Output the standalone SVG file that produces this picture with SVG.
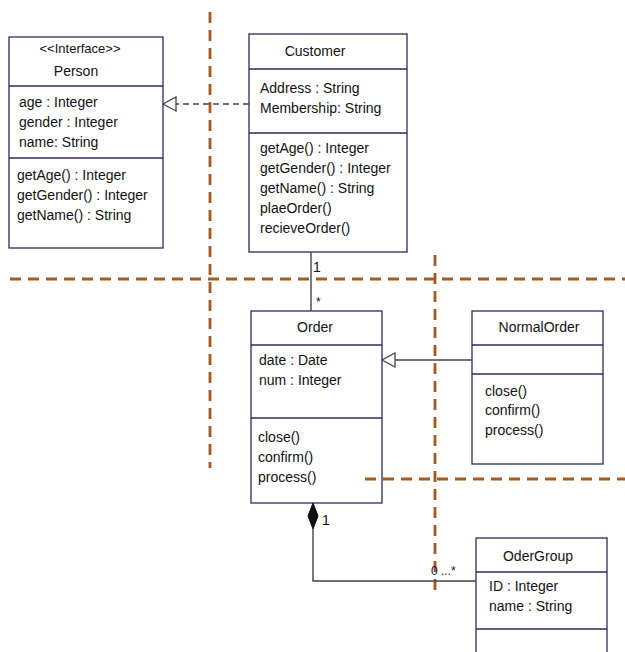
<svg xmlns="http://www.w3.org/2000/svg" width="625" height="652" viewBox="0 0 625 652">
<style>
.box{fill:#fff;stroke:#2b2b5e;stroke-width:1.3}
.div{stroke:#2b2b5e;stroke-width:1.3}
text{font-family:"Liberation Sans",Arial,sans-serif;font-size:14px;fill:#111}
.c{text-anchor:middle}
.sm{font-size:12px}
.dash{stroke:#a8581c;stroke-width:2.8;stroke-dasharray:11,7;fill:none}
.conn{stroke:#444;stroke-width:1.4;fill:none}
</style>
<defs>
<marker id="tri" markerWidth="16" markerHeight="16" refX="14" refY="8" orient="auto" markerUnits="userSpaceOnUse">
<path d="M1,1 L14,8 L1,15 Z" fill="#fff" stroke="#444" stroke-width="1.3"/>
</marker>
</defs>
<g id="Person">
<rect class="box" x="9" y="37" width="154" height="211"/>
<line class="div" x1="9" y1="86" x2="163" y2="86"/>
<line class="div" x1="9" y1="158" x2="163" y2="158"/>
<text class="c" x="80" y="53" style="font-size:13px">&lt;&lt;Interface&gt;&gt;</text>
<text class="c" x="76" y="76">Person</text>
<text x="19" y="107">age : Integer</text>
<text x="19" y="127">gender : Integer</text>
<text x="19" y="147">name: String</text>
<text x="17" y="180">getAge() : Integer</text>
<text x="17" y="200">getGender() : Integer</text>
<text x="17" y="220">getName() : String</text>
</g>
<g id="Customer">
<rect class="box" x="249" y="34" width="158" height="218"/>
<line class="div" x1="249" y1="69" x2="407" y2="69"/>
<line class="div" x1="249" y1="133" x2="407" y2="133"/>
<text class="c" x="315" y="56">Customer</text>
<text x="260" y="93">Address : String</text>
<text x="260" y="113">Membership: String</text>
<text x="260" y="153">getAge() : Integer</text>
<text x="260" y="173">getGender() : Integer</text>
<text x="260" y="193">getName() : String</text>
<text x="260" y="213">plaeOrder()</text>
<text x="260" y="233">recieveOrder()</text>
</g>
<g id="Order">
<rect class="box" x="251" y="311" width="131" height="192"/>
<line class="div" x1="251" y1="345" x2="382" y2="345"/>
<line class="div" x1="251" y1="418" x2="382" y2="418"/>
<text class="c" x="315" y="332">Order</text>
<text x="259" y="365">date : Date</text>
<text x="259" y="385">num : Integer</text>
<text x="258" y="442">close()</text>
<text x="258" y="462">confirm()</text>
<text x="258" y="482">process()</text>
</g>
<g id="NormalOrder">
<rect class="box" x="472" y="311" width="131" height="153"/>
<line class="div" x1="472" y1="345" x2="603" y2="345"/>
<line class="div" x1="472" y1="374" x2="603" y2="374"/>
<text class="c" x="539" y="332">NormalOrder</text>
<text x="485" y="396">close()</text>
<text x="485" y="415">confirm()</text>
<text x="485" y="435">process()</text>
</g>
<g id="OderGroup">
<rect class="box" x="476" y="538" width="131" height="120"/>
<line class="div" x1="476" y1="572" x2="607" y2="572"/>
<line class="div" x1="476" y1="629" x2="607" y2="629"/>
<text class="c" x="538" y="561">OderGroup</text>
<text x="489" y="591">ID : Integer</text>
<text x="489" y="611">name : String</text>
</g>
<g id="partitions">
<line class="dash" x1="210" y1="12" x2="210" y2="468"/>
<line class="dash" x1="10" y1="279" x2="625" y2="279"/>
<line class="dash" x1="435" y1="255" x2="435" y2="590"/>
<line class="dash" x1="365" y1="479" x2="625" y2="479"/>
</g>
<g id="connectors">
<line class="conn" x1="249" y1="104" x2="163" y2="104" stroke-dasharray="6,4" marker-end="url(#tri)"/>
<line class="conn" x1="311" y1="252" x2="311" y2="311"/>
<text x="313" y="272">1</text>
<text x="316" y="306" class="sm">*</text>
<line class="conn" x1="472" y1="360" x2="382" y2="360" marker-end="url(#tri)"/>
<polyline class="conn" points="313,529 313,581 476,581"/>
<path d="M313,503 L318,516 L313,529 L308,516 Z" fill="#111" stroke="#111" stroke-width="1"/>
<text x="322" y="525">1</text>
<text x="431" y="575" class="sm">0 ...*</text>
</g>
</svg>
